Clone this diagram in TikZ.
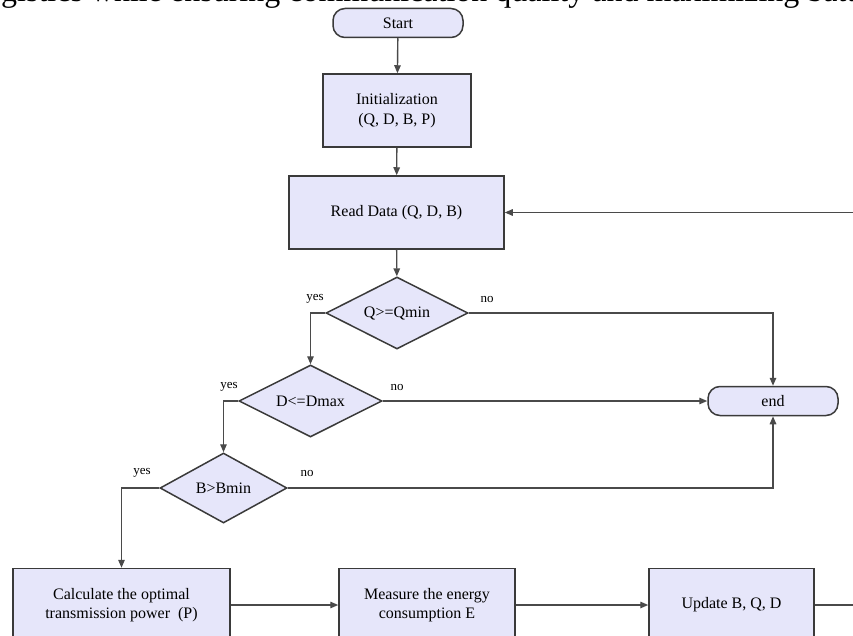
\documentclass[tikz,border=0pt]{standalone}
\usepackage{fontspec}
\setmainfont{Liberation Serif}
\usetikzlibrary{shapes.geometric,arrows.meta}

\definecolor{boxfill}{HTML}{E6E6FA}
\definecolor{boxline}{HTML}{3A3A3A}
\definecolor{wire}{HTML}{4A4A4A}

\tikzset{
  box/.style={draw=boxline, line width=1.5pt, fill=boxfill, inner sep=0pt,
    minimum height=73pt, align=center, font=\fontsize{16}{19.5}\selectfont},
  term/.style={box, rounded corners=12pt, minimum width=130pt, minimum height=29pt},
  test/.style={box, diamond, aspect=2, minimum height=72pt},
  lbl/.style={font=\fontsize{13}{15}\selectfont, inner sep=0pt},
  arr/.style={draw=wire, line width=1.4pt, -{Triangle[length=8pt,width=6.5pt]}},
  wire/.style={draw=wire, line width=1.4pt}
}

\begin{document}
\begin{tikzpicture}[x=1pt,y=-1pt]
    \clip (0,0) rectangle (853,636);
    \fill[white] (0,0) rectangle (853,636);

    \node (cap) [anchor=base west, inner sep=0pt, font=\fontsize{32}{38}\selectfont] at (1,1.5) {gistics while ensuring communication quality and maximizing battery};

    \node (start) [term] at (398,23) {Start};
    \node (init) [box, minimum width=148pt] at (397,110.5) {Initialization\\(Q, D, B, P)};
    \node (read) [box, minimum width=215pt] at (396.5,212.5) {Read Data (Q, D, B)};

    \node (qtest) [test, minimum width=142pt] at (397,313) {Q>=Qmin};
    \node (dtest) [test, minimum width=143pt] at (310.5,401) {D<=Dmax};
    \node (btest) [test, minimum width=127pt, minimum height=70pt] at (223.5,488) {B>Bmin};

    \node (stop) [term] at (773,401) {end};

    \node (calc) [box, minimum width=217pt] at (121.5,605) {Calculate the optimal\\transmission power~ (P)};
    \node (meas) [box, minimum width=176pt] at (427,605) {Measure the energy\\consumption E};
    \node (upd) [box, minimum width=165pt] at (731.5,605) {Update B, Q, D};

    \node (yq) [lbl] at (315,299) {yes};
    \node (nq) [lbl] at (487,299) {no};
    \node (yd) [lbl] at (229,387) {yes};
    \node (nd) [lbl] at (397,387) {no};
    \node (yb) [lbl] at (142,473) {yes};
    \node (nb) [lbl] at (307,473) {no};

    \coordinate (back) at (860,212.5);
    \coordinate (out) at (860,605);

    \draw[arr] (start) -- (init);
    \draw[arr] (init) -- (read);
    \draw[arr] (read) -- (qtest);
    \draw[arr] (qtest.west) -| (dtest.north);
    \draw[arr] (dtest.west) -| (btest.north);
    \draw[arr] (btest.west) -| (calc.north);
    \draw[arr] (qtest.east) -| (stop.north);
    \draw[arr] (dtest.east) -- (stop.west);
    \draw[arr] (btest.east) -| (stop.south);
    \draw[arr] (calc) -- (meas);
    \draw[arr] (meas) -- (upd);
    \draw[wire] (upd.east) -- (out);
    \draw[arr] (back) -- (read.east);
\end{tikzpicture}
\end{document}
